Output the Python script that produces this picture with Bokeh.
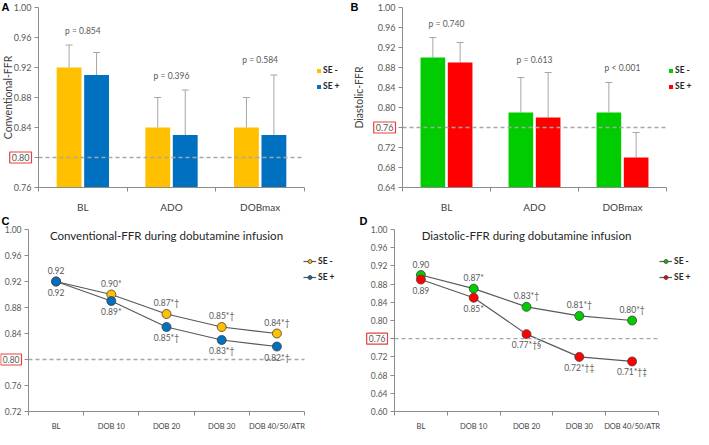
import math
from bokeh.plotting import figure
from bokeh.models import (ColumnDataSource, FixedTicker, Label, LabelSet,
                          Legend, LegendItem, Whisker, TeeHead, Range1d)
from bokeh.layouts import column, row
from bokeh.core.properties import value
from bokeh.embed import file_html
from bokeh.resources import INLINE

FONT = "Lato"
AXIS_COLOR = "#8c8c8c"
TICK_TEXT = "#595959"
DASH_COLOR = "#a6a6a6"
ERR_COLOR = "#a6a6a6"
BOX_RED = "#e8403a"
LINE_GRAY = "#595959"
GOLD = "#FFC000"
BLUE = "#0070C0"
GREEN = "#00CC00"
RED = "#FF0000"

# ---------------- data ----------------
bar_cats = ["BL", "ADO", "DOBmax"]
line_cats = ["BL", "DOB 10", "DOB 20", "DOB 30", "DOB 40/50/ATR"]
series_names = ["SE -", "SE +"]

# Panel A: Conventional-FFR
a_neg = [0.92, 0.84, 0.84]
a_pos = [0.91, 0.83, 0.83]
a_err_neg = [0.95, 0.88, 0.88]
a_err_pos = [0.94, 0.89, 0.91]
a_p_text = ["p = 0.854", "p = 0.396", "p = 0.584"]
a_p_y = [0.969, 0.909, 0.930]
a_yticks = [0.76, 0.80, 0.84, 0.88, 0.92, 0.96, 1.00]
a_ylabels = ["0.76", "0.80", "0.84", "0.88", "0.92", "0.96", "1.00"]
a_cut = 0.80

# Panel B: Diastolic-FFR
b_neg = [0.90, 0.79, 0.79]
b_pos = [0.89, 0.78, 0.70]
b_err_neg = [0.94, 0.86, 0.85]
b_err_pos = [0.93, 0.87, 0.75]
b_p_text = ["p = 0.740", "p = 0.613", "p < 0.001"]
b_p_y = [0.968, 0.895, 0.880]
b_yticks = [0.64, 0.68, 0.72, 0.76, 0.80, 0.84, 0.88, 0.92, 0.96, 1.00]
b_ylabels = ["0.64", "0.68", "0.72", "0.76", "0.80", "0.84", "0.88", "0.92", "0.96", "1.00"]
b_cut = 0.76

# Panel C: Conventional-FFR during dobutamine
c_neg = [0.92, 0.90, 0.87, 0.85, 0.84]
c_pos = [0.92, 0.89, 0.85, 0.83, 0.82]
c_lab_neg = ["0.92", "0.90*", "0.87*\u2020", "0.85*\u2020", "0.84*\u2020"]
c_lab_pos = ["0.92", "0.89*", "0.85*\u2020", "0.83*\u2020", "0.82*\u2020"]
c_yticks = [0.72, 0.76, 0.80, 0.84, 0.88, 0.92, 0.96, 1.00]
c_ylabels = ["0.72", "0.76", "0.80", "0.84", "0.88", "0.92", "0.96", "1.00"]
c_cut = 0.80
c_title = "Conventional-FFR during dobutamine infusion"

# Panel D: Diastolic-FFR during dobutamine
d_neg = [0.90, 0.87, 0.83, 0.81, 0.80]
d_pos = [0.89, 0.85, 0.77, 0.72, 0.71]
d_lab_neg = ["0.90", "0.87*", "0.83*\u2020", "0.81*\u2020", "0.80*\u2020"]
d_lab_pos = ["0.89", "0.85*", "0.77*\u2020\u00a7", "0.72*\u2020\u2021", "0.71*\u2020\u2021"]
d_yticks = [0.60, 0.64, 0.68, 0.72, 0.76, 0.80, 0.84, 0.88, 0.92, 0.96, 1.00]
d_ylabels = ["0.60", "0.64", "0.68", "0.72", "0.76", "0.80", "0.84", "0.88", "0.92", "0.96", "1.00"]
d_cut = 0.76
d_title = "Diastolic-FFR during dobutamine infusion"

# ---------------- layout geometry (pixels inside each figure) ----------------
GEOM = {
    "A": dict(W=346, H=214, L=38, R=304, T=7, B=187),
    "B": dict(W=347, H=214, L=56, R=320, T=7, B=187),
    "C": dict(W=346, H=215, L=28, R=304, T=15, B=197),
    "D": dict(W=347, H=215, L=48, R=312, T=15, B=197),
}


class Mapper:
    def __init__(self, g, n, y0, y1):
        self.g, self.n, self.y0, self.y1 = g, n, y0, y1
        self.sx = (g["R"] - g["L"]) / n
        self.sy = (g["B"] - g["T"]) / (y1 - y0)

    def dx(self, px):
        return (px - self.g["L"]) / self.sx

    def dy(self, py):
        return self.y0 + (self.g["B"] - py) / self.sy


def base_fig(g, n, y0, y1):
    m = Mapper(g, n, y0, y1)
    p = figure(width=g["W"], height=g["H"], title=None,
               x_range=Range1d(m.dx(0), m.dx(g["W"])),
               y_range=Range1d(m.dy(g["H"]), m.dy(0)),
               output_backend="svg", toolbar_location=None, tools="",
               min_border=0, min_border_left=0, min_border_right=0,
               min_border_top=0, min_border_bottom=0)
    p.outline_line_color = None
    p.grid.visible = False
    p.background_fill_color = "white"
    p.border_fill_color = "white"
    return p, m


def style_axes(p, m, cats, yticks, ylabels, cut, xfont, yfont, xstandoff):
    n = len(cats)
    centers = [i + 0.5 for i in range(n)]
    xa = p.xaxis[0]
    xa.fixed_location = m.y0
    xa.bounds = (0, n)
    xa.ticker = FixedTicker(ticks=centers, minor_ticks=list(range(n + 1)))
    xa.major_label_overrides = {c: lab for c, lab in zip(centers, cats)}
    xa.major_tick_out = 0
    xa.major_tick_in = 0
    xa.minor_tick_out = 4
    xa.minor_tick_in = 0
    xa.major_label_standoff = xstandoff
    xa.axis_line_color = AXIS_COLOR
    xa.minor_tick_line_color = AXIS_COLOR
    xa.major_label_text_font = FONT
    xa.major_label_text_font_size = xfont
    xa.major_label_text_color = "#404040"

    ya = p.yaxis[0]
    ya.fixed_location = 0
    ya.bounds = (m.y0, m.y1)
    ya.ticker = FixedTicker(ticks=yticks, minor_ticks=[])
    ya.major_label_overrides = {t: ("" if abs(t - cut) < 1e-9 else lab)
                                for t, lab in zip(yticks, ylabels)}
    ya.major_tick_out = 4
    ya.major_tick_in = 0
    ya.minor_tick_out = 0
    ya.minor_tick_in = 0
    ya.major_label_standoff = 3
    ya.axis_line_color = AXIS_COLOR
    ya.major_tick_line_color = AXIS_COLOR
    ya.major_label_text_font = FONT
    ya.major_label_text_font_size = yfont
    ya.major_label_text_color = TICK_TEXT

    # dashed threshold line across the plot area
    p.segment(x0=[0], y0=[cut], x1=[n], y1=[cut], line_color=DASH_COLOR,
              line_dash="4 3", line_width=1.3)
    # boxed threshold tick label
    cut_lab = [lab for t, lab in zip(yticks, ylabels) if abs(t - cut) < 1e-9][0]
    p.add_layout(Label(x=0, y=cut, x_offset=-7, text=cut_lab, text_align="right",
                       text_baseline="middle", text_font=FONT, text_font_size=yfont,
                       text_color=TICK_TEXT, border_line_color=BOX_RED, border_line_width=1.2,
                       padding=2))


def panel_letter(p, m, letter, px, py):
    p.add_layout(Label(x=m.dx(px), y=m.dy(py), text=letter,
                       text_align="left", text_baseline="top", text_font="Liberation Sans",
                       text_font_size="11px", text_font_style="bold", text_color="#000000"))


def y_title(p, m, text, px):
    g = m.g
    p.add_layout(Label(x=m.dx(px), y=m.dy((g["T"] + g["B"]) / 2), text=text, angle=math.pi / 2,
                       text_align="center", text_baseline="middle", text_font=FONT,
                       text_font_size="10.5px", text_color="#404040"))


def make_legend(p, m, items, px, first_center, glyph_w, glyph_h):
    top = first_center - 6
    bottom = top + 12 + 4 + 12
    leg = Legend(items=items, location=(px, m.g["H"] - bottom), orientation="vertical",
                 glyph_width=glyph_w, glyph_height=glyph_h, label_standoff=2, spacing=4,
                 padding=0, margin=0, border_line_color=None, background_fill_alpha=0,
                 label_text_font=FONT, label_text_font_size="8.5px",
                 label_text_font_style="bold", label_text_color="#262626",
                 label_height=12, label_width=10)
    p.add_layout(leg)


def bar_panel(g, y0, y1, neg, pos, eneg, epos, ptext, py, yticks, ylabels, cut,
              c1, c2, ylabel, ylabel_px, letter, letter_xy, legend_px, legend_y):
    n = len(bar_cats)
    p, m = base_fig(g, n, y0, y1)
    src = ColumnDataSource(dict(
        xn=[i + 0.5 - 0.155 for i in range(n)],
        xp=[i + 0.5 + 0.155 for i in range(n)],
        neg=neg, pos=pos, en=eneg, ep=epos))
    r1 = p.vbar(x="xn", top="neg", bottom=y0, width=0.28, fill_color=c1, line_color=None, source=src)
    r2 = p.vbar(x="xp", top="pos", bottom=y0, width=0.28, fill_color=c2, line_color=None, source=src)
    for base, lo, up in (("xn", "neg", "en"), ("xp", "pos", "ep")):
        p.add_layout(Whisker(source=src, base=base, lower=lo, upper=up, dimension="height",
                             line_color=ERR_COLOR, line_width=1,
                             upper_head=TeeHead(size=7, line_color=ERR_COLOR, line_width=1),
                             lower_head=None))
    psrc = ColumnDataSource(dict(x=[i + 0.5 for i in range(n)], y=py, t=ptext))
    p.add_layout(LabelSet(source=psrc, x="x", y="y", text="t", text_align="center",
                          text_baseline="middle", text_font=value(FONT),
                          text_font_size=value("8.5px"), text_color=TICK_TEXT))
    style_axes(p, m, bar_cats, yticks, ylabels, cut, "10px", "9px", 9)
    y_title(p, m, ylabel, ylabel_px)
    make_legend(p, m, [LegendItem(label=series_names[0], renderers=[r1]),
                       LegendItem(label=series_names[1], renderers=[r2])],
                legend_px, legend_y, 5, 5)
    panel_letter(p, m, letter, *letter_xy)
    return p


def line_panel(g, y0, y1, neg, pos, lneg, lpos, yticks, ylabels, cut,
               c1, c2, title, letter, letter_xy, legend_px, legend_y):
    n = len(line_cats)
    p, m = base_fig(g, n, y0, y1)
    xs = [i + 0.5 for i in range(n)]
    src = ColumnDataSource(dict(x=xs, neg=neg, pos=pos, ln=lneg, lp=lpos))
    l1 = p.line("x", "neg", source=src, line_color=LINE_GRAY, line_width=1.2)
    l2 = p.line("x", "pos", source=src, line_color=LINE_GRAY, line_width=1.2)
    s1 = p.scatter("x", "neg", source=src, size=9, fill_color=c1, line_color="#404040", line_width=0.8)
    s2 = p.scatter("x", "pos", source=src, size=9, fill_color=c2, line_color="#404040", line_width=0.8)
    p.add_layout(LabelSet(source=src, x="x", y="neg", text="ln", y_offset=11,
                          text_align="center", text_baseline="middle", text_font=value(FONT),
                          text_font_size=value("8.5px"), text_color=TICK_TEXT))
    p.add_layout(LabelSet(source=src, x="x", y="pos", text="lp", y_offset=-11,
                          text_align="center", text_baseline="middle", text_font=value(FONT),
                          text_font_size=value("8.5px"), text_color=TICK_TEXT))
    style_axes(p, m, line_cats, yticks, ylabels, cut, "7.5px", "8.5px", 6)
    p.add_layout(Label(x=n / 2, y=y1, y_offset=-6, text=title, text_align="center",
                       text_baseline="middle", text_font=FONT, text_font_size="11.5px",
                       text_color="#262626"))
    make_legend(p, m, [LegendItem(label=series_names[0], renderers=[l1, s1]),
                       LegendItem(label=series_names[1], renderers=[l2, s2])],
                legend_px, legend_y, 13, 10)
    panel_letter(p, m, letter, *letter_xy)
    return p


pA = bar_panel(GEOM["A"], 0.76, 1.00, a_neg, a_pos, a_err_neg, a_err_pos,
               a_p_text, a_p_y, a_yticks, a_ylabels, a_cut, GOLD, BLUE,
               "Conventional-FFR", 7, "A", (1, 0), 316, 70)
pB = bar_panel(GEOM["B"], 0.64, 1.00, b_neg, b_pos, b_err_neg, b_err_pos,
               b_p_text, b_p_y, b_yticks, b_ylabels, b_cut, GREEN, RED,
               "Diastolic-FFR", 12, "B", (4, 0), 322, 70)
pC = line_panel(GEOM["C"], 0.72, 1.00, c_neg, c_pos, c_lab_neg, c_lab_pos,
                c_yticks, c_ylabels, c_cut, GOLD, BLUE, c_title, "C", (1, 0), 303, 47.2)
pD = line_panel(GEOM["D"], 0.60, 1.00, d_neg, d_pos, d_lab_neg, d_lab_pos,
                d_yticks, d_ylabels, d_cut, GREEN, RED, d_title, "D", (13, 0), 313, 47.2)

layout = column(row(pA, pB), row(pC, pD))
open("out.html", "w").write(file_html(layout, INLINE))
